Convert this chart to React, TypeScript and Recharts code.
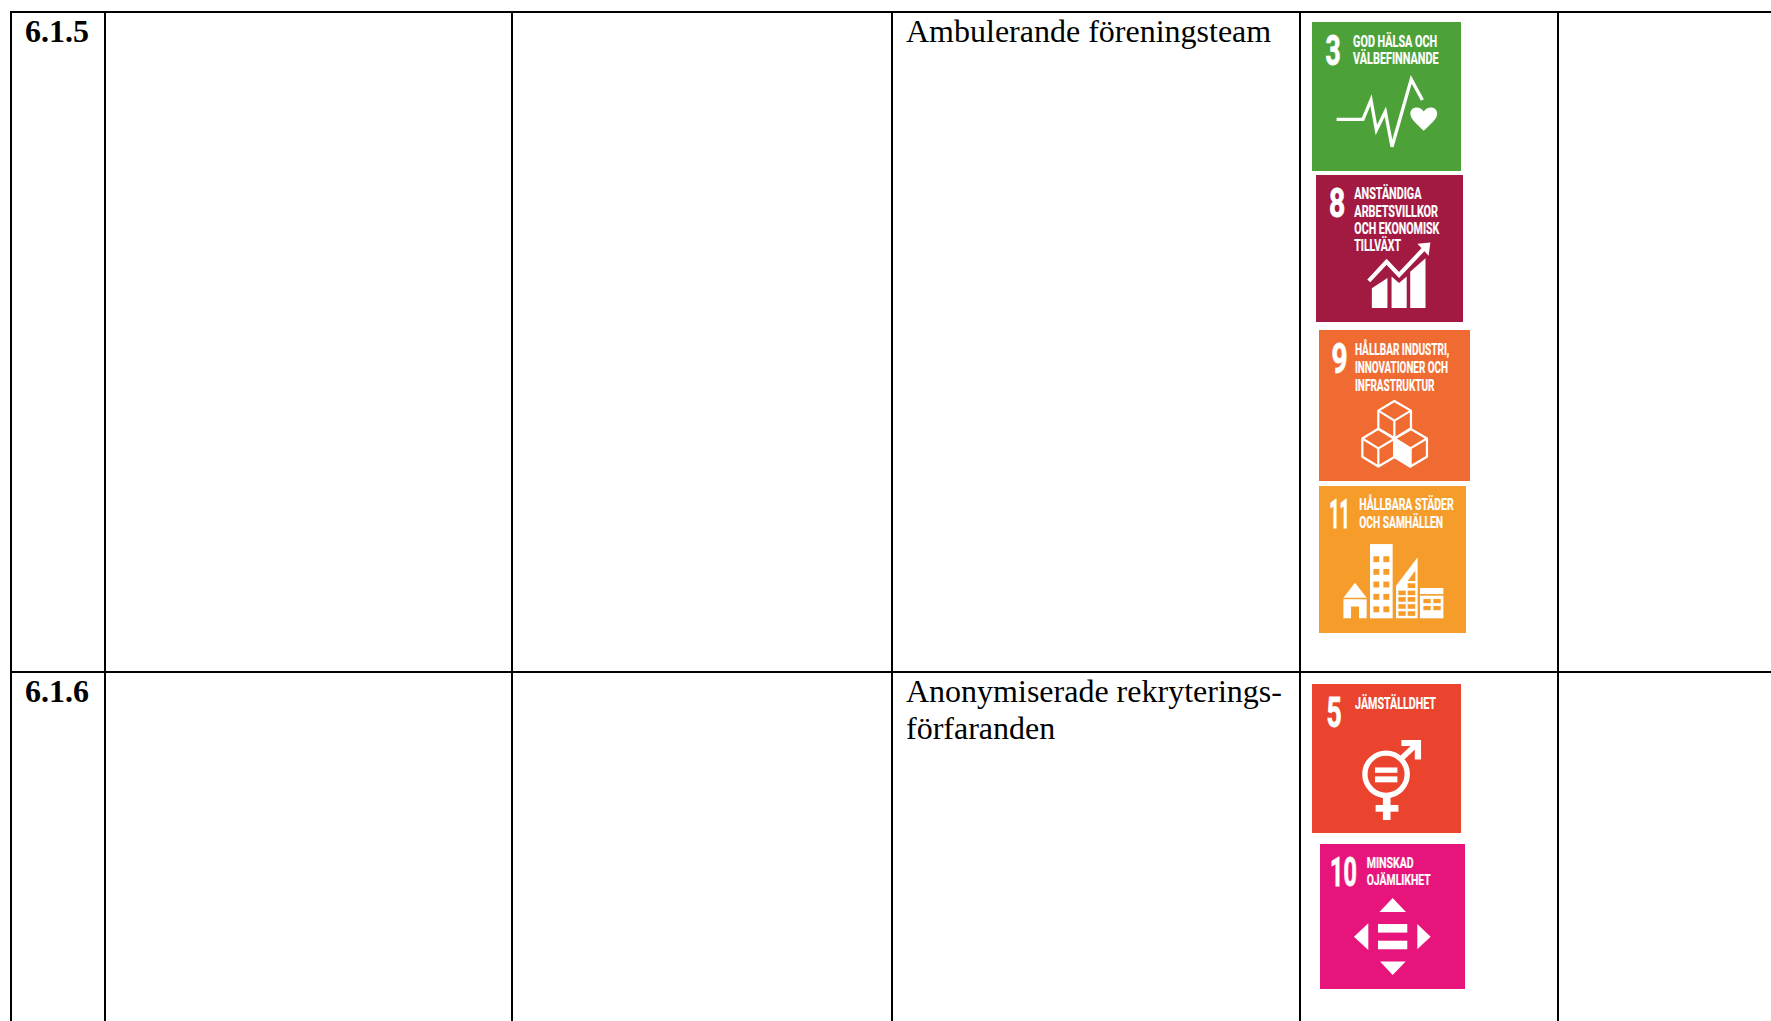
import { ScatterChart, Scatter, XAxis, YAxis, ReferenceLine, ReferenceArea } from "recharts";

const WIDTH = 1771;
const HEIGHT = 1021;

// table rules, in page units on the hidden axes
const columnRules = [11, 105, 512, 892, 1300, 1558];
const rowRules = [12, 672];

const cellTexts = [
  { x: 25, y: 42, text: "6.1.5", bold: true },
  { x: 906, y: 42, text: "Ambulerande föreningsteam", bold: false },
  { x: 25, y: 702, text: "6.1.6", bold: true },
  { x: 906, y: 702, text: "Anonymiserade rekryterings-", bold: false },
  { x: 906, y: 739, text: "förfaranden", bold: false },
];

const goalNumbers = ["3", "8", "9", "11", "5", "10"];
const goalColors = ["#4ca139", "#a21942", "#f06b31", "#f59c2b", "#ea432e", "#e7157b"];
const goalLeft = [1312, 1316, 1319, 1319, 1312, 1320];
const goalRight = [1461, 1463, 1470, 1466, 1461, 1465];
const goalTop = [22, 175, 330, 486, 684, 844];
const goalBottom = [171, 322, 481, 633, 833, 989];

const goalTitles = [
  ["GOD HÄLSA OCH", "VÄLBEFINNANDE"],
  ["ANSTÄNDIGA", "ARBETSVILLKOR", "OCH EKONOMISK", "TILLVÄXT"],
  ["HÅLLBAR INDUSTRI,", "INNOVATIONER OCH", "INFRASTRUKTUR"],
  ["HÅLLBARA STÄDER", "OCH SAMHÄLLEN"],
  ["JÄMSTÄLLDHET"],
  ["MINSKAD", "OJÄMLIKHET"],
];

// tile artwork, in 0-100 tile units
const titleX = [27.6, 26.1, 23.8, 27.4, 28.9, 32.2];
const titleWidths = [
  [56.4, 57.4],
  [45.6, 56.9, 57.8, 31.7],
  [62.5, 61.6, 52.7],
  [64.2, 57],
  [54.3],
  [32.4, 44.1],
];
const numberX = [9, 8.8, 8.2, 7, 9.8, 6.9];
const numberWidths = [10.2, 11, 10.6, 14, 10.1, 18.4];

const INK = "#fff";
const DIGIT_WIDTH = 16; // bold digit advance at font size 28

function Cube({ dx, dy, solidLeft }: { dx: number; dy: number; solidLeft?: boolean }) {
  return (
    <g transform={`translate(${dx} ${dy})`} fill="none" stroke={INK} strokeWidth={1.5} strokeLinejoin="round">
      <path d="M49.9 47 L60.9 53.4 V65.6 L49.9 72 L39.3 65.6 V53.4 Z" />
      <path d="M39.3 53.4 L49.9 60 L60.9 53.4 M49.9 60 V72" />
      {solidLeft && <path d="M39.3 53.4 L49.9 60 V72 L39.3 65.6 Z" fill={INK} />}
    </g>
  );
}

function Pictogram({ goal, color }: { goal: string; color: string }) {
  if (goal === "3") {
    return (
      <g>
        <polyline
          points="16.5,65.3 34.2,65.3 39.6,52.3 43.2,72.5 49.2,60.2 53.7,83.7 66.6,38.5 74.1,52.3"
          fill="none"
          stroke={INK}
          strokeWidth={2.2}
        />
        <path d="M75 73 C70 68 66 65 66 61.5 C66 56.5 72.5 56 75 60 C77.5 56 84 56.5 84 61.5 C84 65 80 68 75 73 Z" fill={INK} />
      </g>
    );
  }
  if (goal === "8") {
    return (
      <g fill={INK}>
        <path d="M38 77 L48.6 70 V90.5 H38 Z" />
        <path d="M51.4 69 L56.5 73.5 L61.7 69 V90.5 H51.4 Z" />
        <path d="M64.1 65.8 L74.5 56.7 V90.5 H64.1 Z" />
        <polyline points="35.9,72 48,59 56.5,68 74,49.5" fill="none" stroke={INK} strokeWidth={2.8} />
        <path d="M69 46.8 L77.8 46 L76.6 55 Z" />
      </g>
    );
  }
  if (goal === "9") {
    return (
      <g>
        <Cube dx={0} dy={0} />
        <Cube dx={-10.6} dy={18.4} />
        <Cube dx={10.6} dy={18.4} solidLeft />
      </g>
    );
  }
  if (goal === "11") {
    return (
      <g fill={INK}>
        <path d="M24.5 65.8 L32.4 76 H16.6 Z" />
        <path d="M16.6 77 H32.4 V90 H27.2 V82 H21.8 V90 H16.6 Z" />
        <rect x={34.7} y={39.5} width={15.4} height={50.5} />
        {[47.8, 56.4, 65, 73.4, 81.9].map((wy) => (
          <g key={wy} fill={color}>
            <rect x={37} y={wy} width={4} height={4} />
            <rect x={43.8} y={wy} width={4} height={4} />
          </g>
        ))}
        <path d="M52.4 67.8 L67.1 48.5 V90 H52.4 Z" />
        {[71.2, 75.6, 80.4, 85.2].map((wy) => (
          <g key={wy} fill={color}>
            <rect x={54} y={wy} width={5} height={3.1} />
            <rect x={60.3} y={wy} width={5.2} height={3.1} />
          </g>
        ))}
        <rect x={60.3} y={66.2} width={5.2} height={3.2} fill={color} />
        <path d="M60.3 64.6 L65.5 57.5 V64.6 Z" fill={color} />
        <rect x={68.7} y={69.4} width={15.9} height={4.1} />
        <rect x={68.7} y={74.6} width={15.9} height={15.4} />
        {[76.8, 81.6].map((wy) => (
          <g key={wy} fill={color}>
            <rect x={71} y={wy} width={5} height={2.9} />
            <rect x={77.8} y={wy} width={5} height={2.9} />
          </g>
        ))}
      </g>
    );
  }
  if (goal === "5") {
    return (
      <g fill={INK}>
        <circle cx={49.7} cy={60.6} r={14.2} fill="none" stroke={INK} strokeWidth={3.6} />
        <rect x={42.3} y={56} width={15} height={3.6} />
        <rect x={42.3} y={62} width={15} height={4} />
        <rect x={47.6} y={75.6} width={5.1} height={15.7} />
        <rect x={42.7} y={81.2} width={15.3} height={4.5} />
        <path d="M60 37.6 H73.2 V50.6 L69 50.6 V41.6 H60 Z" />
        <line x1={60} y1={50} x2={71} y2={39.6} stroke={INK} strokeWidth={3.6} />
      </g>
    );
  }
  return (
    <g fill={INK}>
      <path d="M50.1 37.2 L59.3 46.9 H41 Z" />
      <path d="M41.4 81.1 H59.1 L50.1 90.3 Z" />
      <path d="M33.3 54.7 V73.1 L23.4 63.9 Z" />
      <path d="M67.1 55.2 V72.6 L76.3 63.9 Z" />
      <rect x={40} y={55.2} width={20.2} height={5.9} />
      <rect x={40} y={66.7} width={20.2} height={5.9} />
    </g>
  );
}

const CONDENSED = "Roboto, sans-serif";

function GoalTile({ index, x, y, width, height }: any) {
  const color = goalColors[index];
  const goal = goalNumbers[index];
  const squeeze = numberWidths[index] / (goal.length * DIGIT_WIDTH);
  return (
    <g transform={`translate(${x} ${y}) scale(${width / 100} ${height / 100})`}>
      <rect width={100} height={100} fill={color} />
      <text
        transform={`translate(${numberX[index]} 28.7) scale(${squeeze} 1)`}
        fill={INK}
        stroke={INK}
        strokeWidth={0.6}
        fontFamily={CONDENSED}
        fontWeight={700}
        fontSize={28}
      >
        {goal}
      </text>
      {goalTitles[index].map((line, i) => (
        <text
          key={line}
          x={titleX[index]}
          y={16.5 + i * 11.8}
          fill={INK}
          stroke={INK}
          strokeWidth={0.15}
          fontFamily={CONDENSED}
          fontWeight={700}
          fontSize={10.6}
          textLength={titleWidths[index][i]}
          lengthAdjust="spacingAndGlyphs"
        >
          {line}
        </text>
      ))}
      <Pictogram goal={goal} color={color} />
    </g>
  );
}

function CellText({ cx, cy, payload }: any) {
  return (
    <text
      x={cx}
      y={cy}
      fill="#000"
      fontFamily="'Liberation Serif', serif"
      fontWeight={payload.bold ? 700 : 400}
      fontSize={32}
    >
      {payload.text}
    </text>
  );
}

export default function App() {
  const bottom = HEIGHT;
  return (
    <div style={{ position: "absolute", left: 0, top: 0, width: WIDTH, height: HEIGHT, background: "#fff" }}>
      <ScatterChart width={WIDTH} height={HEIGHT} margin={{ top: 0, right: 0, bottom: 0, left: 0 }}>
        <XAxis type="number" dataKey="x" domain={[0, WIDTH]} hide />
        <YAxis type="number" dataKey="y" domain={[0, HEIGHT]} reversed hide />
        {columnRules.map((x) => (
          <ReferenceLine
            key={x}
            segment={[
              { x, y: rowRules[0] - 1 },
              { x, y: bottom },
            ]}
            stroke="#000"
            strokeWidth={2}
          />
        ))}
        {rowRules.map((y) => (
          <ReferenceLine
            key={y}
            segment={[
              { x: columnRules[0] - 1, y },
              { x: WIDTH, y },
            ]}
            stroke="#000"
            strokeWidth={2}
          />
        ))}
        {goalNumbers.map((goal, i) => (
          <ReferenceArea
            key={goal}
            x1={goalLeft[i]}
            x2={goalRight[i]}
            y1={goalTop[i]}
            y2={goalBottom[i]}
            ifOverflow="visible"
            shape={(props: any) => <GoalTile {...props} index={i} />}
          />
        ))}
        <Scatter data={cellTexts} shape={CellText} isAnimationActive={false} />
      </ScatterChart>
    </div>
  );
}
